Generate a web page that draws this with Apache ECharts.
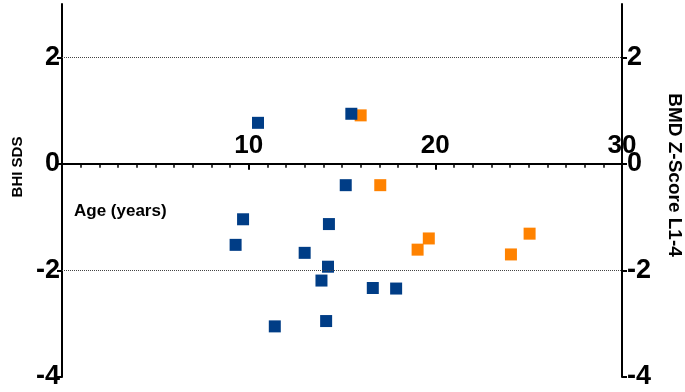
<!DOCTYPE html>
<html>
<head>
<meta charset="utf-8">
<script src="https://cdn.jsdelivr.net/npm/echarts@6/dist/echarts.min.js"></script>
<style>
html,body{margin:0;padding:0;background:#fff;}
#c{width:685px;height:392px;}
</style>
</head>
<body>
<div id="c"></div>
<script>
// Data
const blueAge = [10.5, 15.5, 15.2, 9.7, 14.3, 9.3, 13.0, 14.25, 13.9, 16.65, 17.9, 11.4, 14.15];
const blueBHI = [0.77, 0.94, -0.40, -1.04, -1.13, -1.52, -1.67, -1.93, -2.19, -2.33, -2.34, -3.05, -2.95];
const orangeAge = [16.0, 17.05, 19.65, 19.05, 24.05, 25.05];
const orangeBMD = [0.91, -0.40, -1.40, -1.61, -1.70, -1.31];
const yTicks = [-4, -2, 0, 2];
const xLabels = [10, 20, 30];
const refLines = [2, -2];

const FONT = '"Liberation Sans", Arial, sans-serif';

function yAxisCfg(pos, margin) {
  return {
    type: 'value', position: pos, min: -4, max: 3, interval: 2,
    axisLine: { show: true, onZero: false, lineStyle: { color: '#000', width: 2 } },
    axisTick: { show: true, inside: false, length: 5, customValues: yTicks, lineStyle: { color: '#000', width: 2 } },
    axisLabel: { show: true, customValues: yTicks, margin: margin, fontSize: 27, fontWeight: 'bold', color: '#000', fontFamily: FONT },
    splitLine: { show: false }
  };
}

const chart = echarts.init(document.getElementById('c'), null, { renderer: 'canvas' });
chart.setOption({
  animation: false,
  backgroundColor: '#fff',
  grid: { left: 62, right: 63, top: 4, bottom: 15, containLabel: false, outerBoundsMode: 'none' },
  xAxis: [
    {
      type: 'value', min: 0, max: 30, interval: 10,
      axisLine: { show: true, onZero: true, onZeroAxisIndex: 0, lineStyle: { color: '#000', width: 2 } },
      axisTick: { show: true, inside: false, length: 6, lineStyle: { color: '#000', width: 2 } },
      minorTick: { show: true, splitNumber: 10, length: 4, lineStyle: { color: '#000', width: 1.5 } },
      axisLabel: { show: false },
      splitLine: { show: false }
    },
    {
      type: 'value', min: 0, max: 30, interval: 10, position: 'bottom', offset: -214,
      axisLine: { show: false, onZero: false },
      axisTick: { show: false },
      axisLabel: { show: true, inside: true, customValues: xLabels, margin: 4, fontSize: 26, fontWeight: 'bold', color: '#000', fontFamily: FONT },
      splitLine: { show: false }
    }
  ],
  yAxis: [yAxisCfg('left', 2), yAxisCfg('right', 5)],
  graphic: [
    { type: 'text', x: 18, y: 167, rotation: Math.PI / 2,
      style: { text: 'BHI SDS', font: 'bold 15px ' + FONT, fill: '#000', textAlign: 'center', textVerticalAlign: 'middle' } },
    { type: 'text', x: 74, y: 211,
      style: { text: 'Age (years)', font: 'bold 17px ' + FONT, fill: '#000', textAlign: 'left', textVerticalAlign: 'middle' } },
    { type: 'text', x: 674, y: 175, rotation: -Math.PI / 2,
      style: { text: 'BMD Z-Score L1-4', font: 'bold 19px ' + FONT, fill: '#000', textAlign: 'center', textVerticalAlign: 'middle' } }
  ],
  series: [
    {
      type: 'scatter', xAxisIndex: 0, yAxisIndex: 0, symbol: 'rect', symbolSize: 12,
      itemStyle: { color: '#003d86', opacity: 1 },
      data: blueAge.map((a, i) => [a, blueBHI[i]]),
      markLine: {
        silent: true, symbol: 'none', label: { show: false },
        lineStyle: { type: 'dotted', color: '#444', width: 1 },
        data: refLines.map(v => ({ yAxis: v }))
      },
      z: 3
    },
    {
      type: 'scatter', xAxisIndex: 0, yAxisIndex: 1, symbol: 'rect', symbolSize: 12,
      itemStyle: { color: '#ff8200', opacity: 1 },
      data: orangeAge.map((a, i) => [a, orangeBMD[i]]),
      z: 2
    }
  ]
});
</script>
</body>
</html>
